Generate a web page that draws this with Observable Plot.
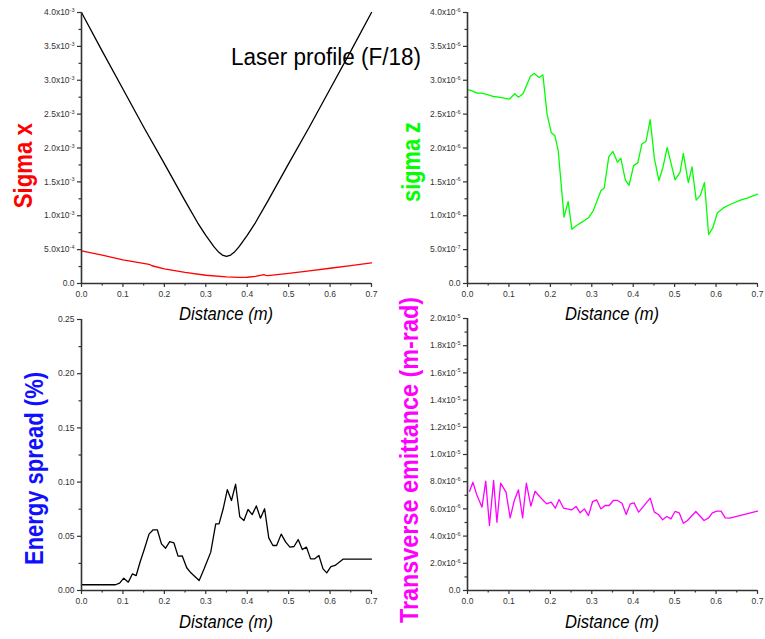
<!DOCTYPE html>
<html><head><meta charset="utf-8">
<script src="https://cdn.jsdelivr.net/npm/d3@7"></script>
<script src="https://cdn.jsdelivr.net/npm/@observablehq/plot@0.6"></script>
<style>
html,body{margin:0;padding:0;background:#fff;}
#chart{position:relative;width:765px;height:639px;overflow:hidden;background:#fff;}
#chart > svg{position:absolute;}
</style></head><body><div id="chart"></div>
<script>
// ---------- data ----------
const xTicks = [0, 0.1, 0.2, 0.3, 0.4, 0.5, 0.6, 0.7];
const xTickLabels = ["0.0", "0.1", "0.2", "0.3", "0.4", "0.5", "0.6", "0.7"];

// Laser profile (F/18), values in units of 1e-3
const laserDist = [0, 0.05, 0.10, 0.15, 0.20, 0.25, 0.28, 0.30, 0.32, 0.33, 0.34, 0.35, 0.36, 0.37, 0.38, 0.40, 0.42, 0.45, 0.50, 0.55, 0.60, 0.65, 0.70];
const laserSize = [4.0, 3.43, 2.87, 2.31, 1.77, 1.22, 0.90, 0.71, 0.54, 0.47, 0.42, 0.40, 0.42, 0.47, 0.54, 0.71, 0.90, 1.22, 1.77, 2.31, 2.87, 3.43, 4.0];

// Sigma x, values in units of 1e-4
const sigmaXDist = [0, 0.05, 0.10, 0.16, 0.165, 0.17, 0.20, 0.25, 0.30, 0.35, 0.38, 0.40, 0.42, 0.44, 0.445, 0.45, 0.50, 0.55, 0.60, 0.65, 0.70];
const sigmaX = [4.8, 4.2, 3.5, 2.85, 2.8, 2.62, 2.17, 1.65, 1.22, 0.98, 0.9, 0.92, 1.05, 1.3, 1.2, 1.15, 1.5, 1.85, 2.25, 2.65, 3.05];
const sigmaXTicks = [0, 5e-4, 1e-3, 1.5e-3, 2e-3, 2.5e-3, 3e-3, 3.5e-3, 4e-3];
const sigmaXTickLabels = ["0.0", "5.0x10^-4", "1.0x10^-3", "1.5x10^-3", "2.0x10^-3", "2.5x10^-3", "3.0x10^-3", "3.5x10^-3", "4.0x10^-3"];

// sigma z, values in units of 1e-6
const sigmaZDist = [0, 0.008, 0.023, 0.033, 0.047, 0.063, 0.075, 0.101, 0.114, 0.123, 0.134, 0.152, 0.161, 0.173, 0.182, 0.192, 0.202, 0.211, 0.219, 0.233, 0.243, 0.252, 0.264, 0.280, 0.292, 0.304, 0.322, 0.330, 0.341, 0.351, 0.362, 0.370, 0.381, 0.390, 0.401, 0.411, 0.421, 0.431, 0.441, 0.451, 0.462, 0.472, 0.482, 0.501, 0.513, 0.521, 0.533, 0.542, 0.552, 0.562, 0.572, 0.582, 0.592, 0.603, 0.619, 0.635, 0.659, 0.675, 0.700];
const sigmaZ = [2.86, 2.85, 2.81, 2.81, 2.79, 2.76, 2.75, 2.72, 2.80, 2.75, 2.80, 3.06, 3.10, 3.04, 3.08, 2.50, 2.23, 2.18, 1.96, 0.98, 1.21, 0.80, 0.86, 0.92, 0.97, 1.08, 1.37, 1.41, 1.87, 1.95, 1.79, 1.85, 1.53, 1.45, 1.74, 1.78, 2.06, 2.10, 2.42, 1.85, 1.52, 1.72, 2.01, 1.53, 1.64, 1.92, 1.49, 1.72, 1.23, 1.30, 1.49, 0.72, 0.82, 1.04, 1.12, 1.17, 1.23, 1.26, 1.32];
const sigmaZTicks = [0, 5e-7, 1e-6, 1.5e-6, 2e-6, 2.5e-6, 3e-6, 3.5e-6, 4e-6];
const sigmaZTickLabels = ["0.0", "5.0x10^-7", "1.0x10^-6", "1.5x10^-6", "2.0x10^-6", "2.5x10^-6", "3.0x10^-6", "3.5x10^-6", "4.0x10^-6"];

// Energy spread (%)
const espreadDist = [0, 0.082, 0.092, 0.102, 0.113, 0.123, 0.132, 0.142, 0.152, 0.163, 0.173, 0.183, 0.193, 0.203, 0.213, 0.223, 0.233, 0.243, 0.254, 0.264, 0.284, 0.296, 0.312, 0.324, 0.332, 0.342, 0.352, 0.362, 0.372, 0.382, 0.392, 0.402, 0.412, 0.422, 0.432, 0.442, 0.452, 0.462, 0.471, 0.482, 0.493, 0.503, 0.513, 0.523, 0.533, 0.543, 0.553, 0.563, 0.573, 0.583, 0.592, 0.602, 0.612, 0.622, 0.632, 0.700];
const espread = [0.0053, 0.0053, 0.0068, 0.0114, 0.0077, 0.0154, 0.0138, 0.027, 0.0385, 0.052, 0.056, 0.056, 0.043, 0.039, 0.045, 0.044, 0.0317, 0.032, 0.021, 0.0163, 0.0092, 0.020, 0.0354, 0.0615, 0.0615, 0.0754, 0.093, 0.083, 0.098, 0.068, 0.0646, 0.0747, 0.070, 0.078, 0.0667, 0.0754, 0.0486, 0.0415, 0.0415, 0.052, 0.0446, 0.040, 0.0406, 0.047, 0.0378, 0.040, 0.0292, 0.0292, 0.0323, 0.020, 0.0163, 0.0221, 0.0231, 0.026, 0.029, 0.029];
const espreadTicks = [0, 0.05, 0.10, 0.15, 0.20, 0.25];
const espreadTickLabels = ["0.00", "0.05", "0.10", "0.15", "0.20", "0.25"];

// Transverse emittance (m-rad), values in units of 1e-6
const emitDist = [0.005, 0.013, 0.023, 0.035, 0.044, 0.053, 0.063, 0.071, 0.080, 0.093, 0.103, 0.113, 0.123, 0.133, 0.142, 0.153, 0.163, 0.174, 0.191, 0.202, 0.212, 0.221, 0.232, 0.252, 0.262, 0.272, 0.282, 0.292, 0.302, 0.312, 0.322, 0.332, 0.342, 0.352, 0.362, 0.373, 0.383, 0.393, 0.402, 0.413, 0.441, 0.451, 0.461, 0.471, 0.481, 0.491, 0.501, 0.511, 0.521, 0.531, 0.551, 0.571, 0.582, 0.591, 0.602, 0.612, 0.622, 0.633, 0.700];
const emit = [7.30, 7.96, 6.98, 6.13, 8.04, 4.78, 8.09, 5.02, 7.89, 7.23, 5.34, 6.62, 7.40, 5.34, 7.89, 6.20, 7.30, 6.91, 6.37, 6.49, 6.05, 6.69, 6.05, 5.93, 6.18, 5.71, 6.00, 5.51, 6.54, 6.66, 6.00, 6.25, 6.25, 6.62, 6.62, 6.42, 5.59, 6.37, 6.45, 5.76, 6.79, 5.76, 5.59, 5.20, 5.44, 5.27, 5.81, 5.71, 4.95, 5.15, 5.81, 5.15, 5.34, 5.71, 5.83, 5.83, 5.34, 5.32, 5.83];
const emitTicks = [0, 2e-6, 4e-6, 6e-6, 8e-6, 1e-5, 1.2e-5, 1.4e-5, 1.6e-5, 1.8e-5, 2e-5];
const emitTickLabels = ["0.0", "2.0x10^-6", "4.0x10^-6", "6.0x10^-6", "8.0x10^-6", "1.0x10^-5", "1.2x10^-5", "1.4x10^-5", "1.6x10^-5", "1.8x10^-5", "2.0x10^-5"];

// ---------- drawing ----------
const root = document.getElementById("chart");
const FONT = "'Liberation Sans', Arial, Helvetica, sans-serif";
const AXIS = "#333";
const mids = t => t.slice(0, -1).map((v, i) => (v + t[i + 1]) / 2);

function panel({box, area, yTicks, yLabels, series}) {
  const yFmt = new Map(yTicks.map((t, i) => [t, yLabels[i]]));
  const xFmt = new Map(xTicks.map((t, i) => [t, xTickLabels[i]]));
  const yDomain = [yTicks[0], yTicks[yTicks.length - 1]];
  const xDomain = [xTicks[0], xTicks[xTicks.length - 1]];
  const chart = Plot.plot({
    width: box.w, height: box.h,
    marginLeft: area.x0 - box.left, marginRight: box.left + box.w - area.x1,
    marginTop: area.y0 - box.top, marginBottom: box.top + box.h - area.y1,
    x: {domain: xDomain},
    y: {domain: yDomain},
    style: {fontFamily: FONT, fontSize: "8.5px", color: AXIS, background: "transparent", overflow: "visible"},
    marks: [
      Plot.axisX({ticks: mids(xTicks), tickSize: 2.5, tickFormat: () => "", label: null, strokeWidth: 1.2}),
      Plot.axisX({ticks: xTicks, tickSize: 4, tickPadding: 3, tickFormat: d => xFmt.get(d), label: null, strokeWidth: 1.2}),
      Plot.axisY({ticks: mids(yTicks), tickSize: 2.5, tickFormat: () => "", label: null, strokeWidth: 1.2}),
      Plot.axisY({ticks: yTicks, tickSize: 4, tickPadding: 3, tickFormat: d => yFmt.get(d), label: null, strokeWidth: 1.2}),
      ...series.map(s => Plot.line(s.x.map((x, i) => ({x, y: s.y[i] * s.unit})), {x: "x", y: "y", stroke: s.color, strokeWidth: 1.3})),
      Plot.ruleX([xDomain[0]], {stroke: AXIS, strokeWidth: 1.6}),
      Plot.ruleY([yDomain[0]], {stroke: AXIS, strokeWidth: 1.6})
    ]
  });
  chart.style.left = box.left + "px";
  chart.style.top = box.top + "px";
  // superscripts for exponents
  chart.querySelectorAll("text").forEach(t => {
    const s = t.textContent;
    if (s.includes("^")) {
      const [b, e] = s.split("^");
      t.textContent = b;
      const ts = document.createElementNS("http://www.w3.org/2000/svg", "tspan");
      ts.setAttribute("dy", "-3.2");
      ts.setAttribute("font-size", "5.5");
      ts.textContent = e;
      t.appendChild(ts);
    }
  });
  root.appendChild(chart);
}

panel({
  box: {left: 0, top: 0, w: 380, h: 305},
  area: {x0: 81, x1: 371, y0: 12, y1: 283},
  yTicks: sigmaXTicks, yLabels: sigmaXTickLabels,
  series: [
    {x: laserDist, y: laserSize, unit: 1e-3, color: "#000"},
    {x: sigmaXDist, y: sigmaX, unit: 1e-4, color: "#ff0000"}
  ]
});
panel({
  box: {left: 380, top: 0, w: 385, h: 305},
  area: {x0: 467, x1: 757, y0: 12, y1: 283},
  yTicks: sigmaZTicks, yLabels: sigmaZTickLabels,
  series: [{x: sigmaZDist, y: sigmaZ, unit: 1e-6, color: "#00ff00"}]
});
panel({
  box: {left: 0, top: 305, w: 380, h: 334},
  area: {x0: 81, x1: 371, y0: 319, y1: 590},
  yTicks: espreadTicks, yLabels: espreadTickLabels,
  series: [{x: espreadDist, y: espread, unit: 1, color: "#000"}]
});
panel({
  box: {left: 380, top: 305, w: 385, h: 334},
  area: {x0: 467, x1: 757, y0: 318, y1: 590},
  yTicks: emitTicks, yLabels: emitTickLabels,
  series: [{x: emitDist, y: emit, unit: 1e-6, color: "#ff00ff"}]
});

// ---------- overlay text ----------
const ov = d3.select(root).append("svg")
  .attr("width", 765).attr("height", 639)
  .style("left", "0px").style("top", "0px").style("pointer-events", "none")
  .attr("font-family", FONT);

ov.append("text").attr("x", 231).attr("y", 65).attr("font-size", 23)
  .attr("textLength", 190).attr("lengthAdjust", "spacingAndGlyphs")
  .attr("fill", "#000").text("Laser profile (F/18)");

[[226, 319.5], [612, 319.5], [226, 628], [612, 628]].forEach(([x, y]) => {
  ov.append("text").attr("x", x - 47).attr("y", y).attr("font-size", 17.5)
    .attr("font-style", "italic").attr("textLength", 94).attr("lengthAdjust", "spacingAndGlyphs")
    .attr("fill", "#000").text("Distance (m)");
});

const yLabels = [
  {text: "Sigma x", x: 31.7, cy: 165.7, len: 85, color: "#ff0000"},
  {text: "Energy spread (%)", x: 43, cy: 468.5, len: 193, color: "#1010ff"},
  {text: "sigma z", x: 420, cy: 162, len: 80, color: "#00ff00"},
  {text: "Transverse emittance (m-rad)", x: 418, cy: 460, len: 326, color: "#ff00ff"}
];
yLabels.forEach(l => {
  ov.append("text")
    .attr("transform", `translate(${l.x},${l.cy + l.len / 2}) rotate(-90)`)
    .attr("font-size", 25).attr("font-weight", "bold")
    .attr("textLength", l.len).attr("lengthAdjust", "spacingAndGlyphs")
    .attr("fill", l.color).text(l.text);
});
</script></body></html>
